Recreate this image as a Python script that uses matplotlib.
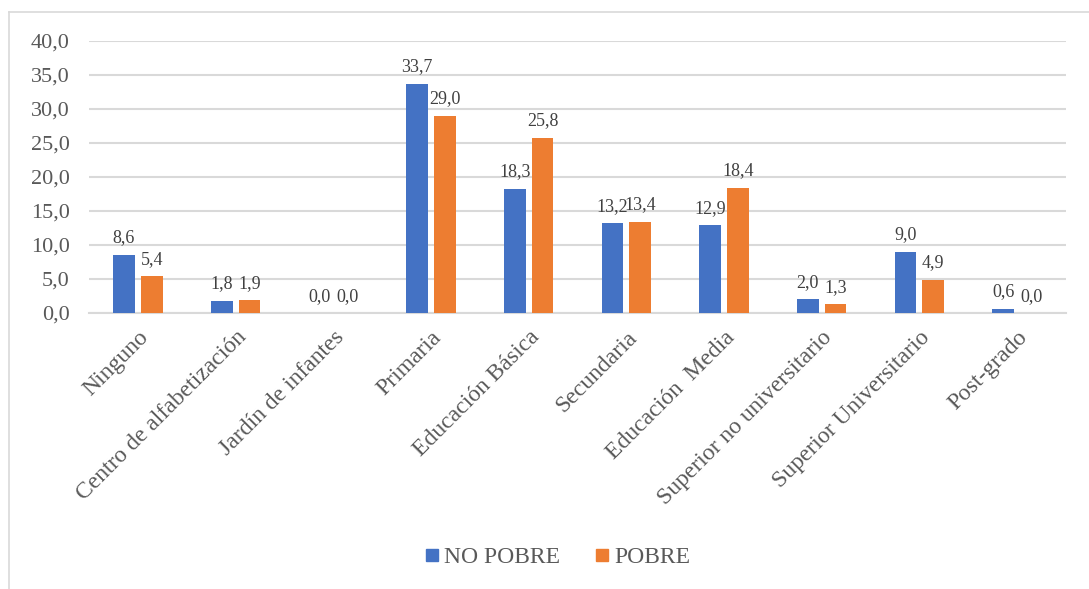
import matplotlib
matplotlib.use("Agg")
from matplotlib import pyplot as plt
from matplotlib.lines import Line2D
import numpy as np

categories = [
    "Ninguno",
    "Centro de alfabetización",
    "Jardín de infantes",
    "Primaria",
    "Educación Básica",
    "Secundaria",
    "Educación  Media",
    "Superior no universitario",
    "Superior Universitario",
    "Post-grado",
]
no_pobre = [8.6, 1.8, 0.0, 33.7, 18.3, 13.2, 12.9, 2.0, 9.0, 0.6]
pobre = [5.4, 1.9, 0.0, 29.0, 25.8, 13.4, 18.4, 1.3, 4.9, 0.0]
series_names = ["NO POBRE", "POBRE"]
y_ticks = [0, 5, 10, 15, 20, 25, 30, 35, 40]

BLUE = "#4472C4"
ORANGE = "#ED7D31"
GRID = "#D9D9D9"
TEXT = "#595959"
LABEL = "#404040"

plt.rcParams["font.family"] = ["Liberation Serif", "DejaVu Serif"]

fig = plt.figure(figsize=(10.89, 5.89), dpi=100)
ax = fig.add_axes([0.0817, 0.4686, 0.8972, 0.4618])

x = np.arange(len(categories))
width = 0.222
offset = 0.142

for vals, color, sign in [(no_pobre, BLUE, -1), (pobre, ORANGE, 1)]:
    bars = ax.bar(x + sign * offset, vals, width, color=color, zorder=3)
    for b, v in zip(bars, vals):
        ax.annotate(
            f"{v:.1f}".replace(".", ","),
            (b.get_x() + b.get_width() / 2, v),
            xytext=(0, 6),
            textcoords="offset points",
            ha="center",
            va="bottom",
            fontsize=13,
            color=LABEL,
        )

ax.set_xlim(-0.5, len(categories) - 0.5)
ax.set_ylim(0, 40)
ax.set_yticks(y_ticks)
ax.set_yticklabels([f"{t:.1f}".replace(".", ",") for t in y_ticks])
ax.yaxis.grid(True, color=GRID, linewidth=1.5, zorder=0)
ax.set_axisbelow(True)
for s in ["top", "right", "left"]:
    ax.spines[s].set_visible(False)
ax.spines["bottom"].set_color(GRID)
ax.spines["bottom"].set_linewidth(1.5)
ax.tick_params(axis="both", length=0, labelsize=16, labelcolor=TEXT)
ax.tick_params(axis="y", pad=14)

ax.set_xticks(x)
ax.set_xticklabels(categories, rotation=45, ha="right", rotation_mode="anchor",
                   fontsize=17)
ax.tick_params(axis="x", pad=10)

handles = [
    Line2D([], [], marker="s", linestyle="none", markersize=9,
           markerfacecolor=BLUE, markeredgecolor=BLUE),
    Line2D([], [], marker="s", linestyle="none", markersize=9,
           markerfacecolor=ORANGE, markeredgecolor=ORANGE),
]
leg = fig.legend(
    handles,
    series_names,
    loc="center",
    bbox_to_anchor=(0.512, 0.054),
    ncol=2,
    frameon=False,
    fontsize=17,
    handlelength=0.6,
    handletextpad=0.2,
    columnspacing=1.5,
)
for t in leg.get_texts():
    t.set_color(TEXT)

# outer chart border (only top and left visible in the crop)
fig.add_artist(Line2D([9 / 1089, 9 / 1089], [0, 1 - 12 / 589],
                      transform=fig.transFigure, color=GRID, linewidth=1.2))
fig.add_artist(Line2D([9 / 1089, 1], [1 - 12 / 589, 1 - 12 / 589],
                      transform=fig.transFigure, color=GRID, linewidth=1.2))

fig.savefig("out.png", dpi=100)
